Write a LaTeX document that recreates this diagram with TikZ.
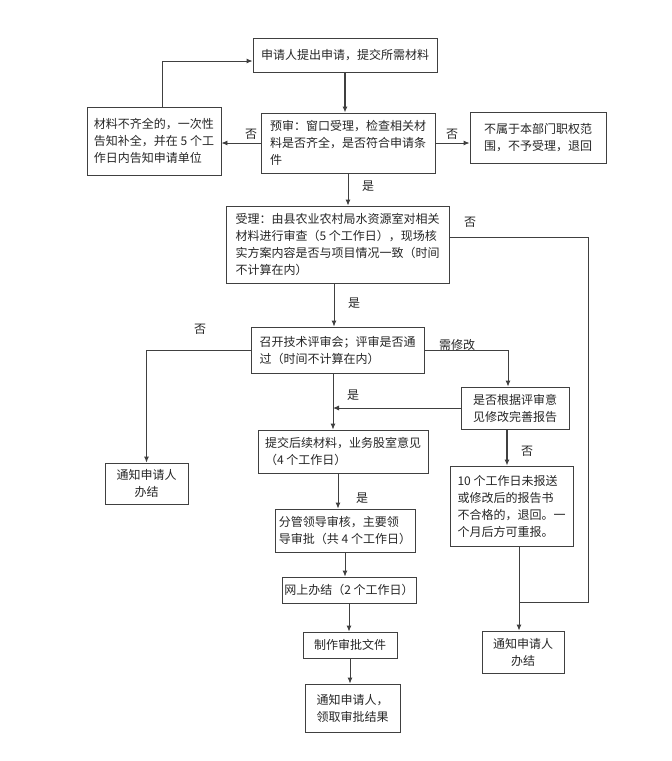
\documentclass[tikz,border=0pt]{standalone}
\usepackage{fontspec}
\setmainfont{Noto Sans CJK SC}
\usetikzlibrary{arrows.meta}
\definecolor{ln}{HTML}{404040}
\definecolor{tx}{HTML}{262626}
\begin{document}
\begin{tikzpicture}[x=1pt,y=-1pt,
  box/.style={draw=ln,line width=0.9pt,inner sep=0pt,align=left,text=tx,
    font=\fontsize{12}{17}\selectfont},
  cbox/.style={box,align=center},
  arr/.style={draw=ln,line width=0.9pt,-{Latex[length=6pt,width=5pt]}},
  ln/.style={draw=ln,line width=0.9pt},
  lab/.style={text=tx,font=\fontsize{12}{14}\selectfont,inner sep=0pt}]
\fill[white] (0,0) rectangle (672,761);
\useasboundingbox (0,0) rectangle (672,761);

\node[cbox,minimum width=184pt,minimum height=34pt] (b1) at (345,55) {申请人提出申请，提交所需材料};
\node[box,minimum width=174pt,minimum height=60pt] (b2) at (348,143) {预审：窗口受理，检查相关材\\料是否齐全，是否符合申请条\\件};
\node[box,minimum width=134pt,minimum height=68pt] (bl) at (154,141) {材料不齐全的，一次性\\告知补全，并在 5 个工\\作日内告知申请单位};
\node[box,minimum width=136pt,minimum height=51pt] (br) at (538,137.5) {不属于本部门职权范\\围，不予受理，退回};
\node[box,minimum width=223pt,minimum height=77pt] (b3) at (337.5,244.5) {受理：由县农业农村局水资源室对相关\\材料进行审查（5 个工作日），现场核\\实方案内容是否与项目情况一致（时间\\不计算在内）};
\node[box,minimum width=173pt,minimum height=46pt] (b4) at (337.5,350) {召开技术评审会；评审是否通\\过（时间不计算在内）};
\node[cbox,minimum width=83pt,minimum height=41pt] (nl) at (146.5,483.5) {通知申请人\\办结};
\node[box,minimum width=108pt,minimum height=42pt] (b5) at (515,408) {是否根据评审意\\见修改完善报告};
\node[box,minimum width=170pt,minimum height=43pt] (b6) at (343,451.5) {提交后续材料，业务股室意见\\（4 个工作日）};
\node[box,minimum width=123pt,minimum height=80pt] (b7) at (511.5,506) {10 个工作日未报送\\或修改后的报告书\\不合格的，退回。一\\个月后方可重报。};
\node[cbox,minimum width=82pt,minimum height=42pt] (nr) at (523,652) {通知申请人\\办结};
\node[box,minimum width=140pt,minimum height=43pt] (b8) at (345,530.5) {分管领导审核，主要领\\导审批（共 4 个工作日）};
\node[box,minimum width=134pt,minimum height=26pt] (b9) at (349,590) {网上办结（2 个工作日）};
\node[box,minimum width=94pt,minimum height=26pt] (b10) at (350,645) {制作审批文件};
\node[box,minimum width=95pt,minimum height=48pt] (b11) at (352.5,708) {通知申请人，\\领取审批结果};

\coordinate (v) at (333,0);
\coordinate (v2) at (338,0);
\coordinate (v3) at (507,0);
\coordinate (v4) at (334,0);
\coordinate (j) at (519,602);
\coordinate (c1) at (588,602);

% connectors
\draw[arr,line width=1.6pt] (b1.south) -- (b1.south |- b2.north);
\draw[arr] (b2.west) -- (b2.west -| bl.east);
\draw[arr] ([xshift=8pt]bl.north) |- ([yshift=-6pt]b1.west);
\draw[arr] (b2.east) -- (b2.east -| br.west);
\draw[arr] (b2.south) -- (b2.south |- b3.north);
\draw[arr] (v4 |- b3.south) -- (v4 |- b4.north);
\draw[ln] ([yshift=7pt]b3.east) -| (c1) -- (j);
\draw[arr] (j |- b7.south) -- (j |- nr.north);
\draw[arr] (b4.west) -| (nl.north);
\draw[arr] (b4.east) -| ([xshift=-7pt]b5.north);
\draw[arr] (v |- b4.south) -- (v |- b6.north);
\draw[arr] (b5.west) -- (b5.west -| v);
\draw[arr,line width=1.2pt] (v3 |- b5.south) -- (v3 |- b7.north);
\draw[arr] (v2 |- b6.south) -- (v2 |- b8.north);
\draw[arr] (b8.south) -- (b8.south |- b9.north);
\draw[arr] (b9.south) -- (b9.south |- b10.north);
\draw[arr] (b10.south) -- (b10.south |- b11.north);

% labels
\node[lab] (l1) at (251,134) {否};
\node[lab] (l2) at (452,134) {否};
\node[lab] (l3) at (368,186) {是};
\node[lab] (l4) at (470,222) {否};
\node[lab] (l5) at (354,303) {是};
\node[lab] (l6) at (200,329) {否};
\node[lab] (l7) at (457,345) {需修改};
\node[lab] (l8) at (353,395) {是};
\node[lab] (l9) at (527,451) {否};
\node[lab] (l10) at (362,498) {是};
\end{tikzpicture}
\end{document}
